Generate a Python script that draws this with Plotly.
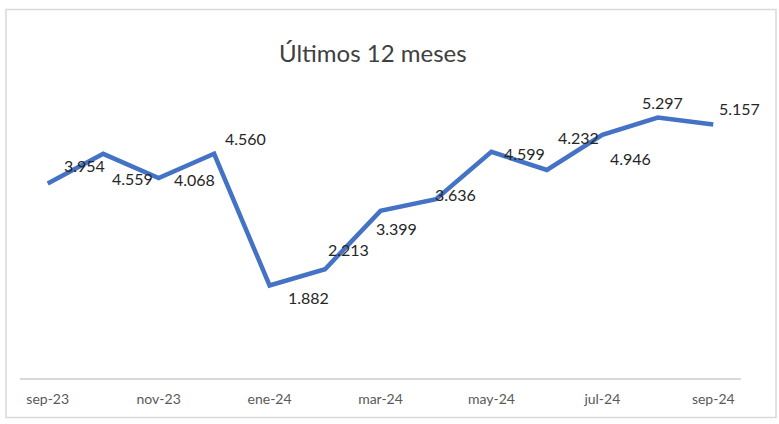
import plotly.graph_objects as go

months = ["sep-23", "oct-23", "nov-23", "dic-23", "ene-24", "feb-24", "mar-24",
          "abr-24", "may-24", "jun-24", "jul-24", "ago-24", "sep-24"]
values = [3.954, 4.559, 4.068, 4.560, 1.882, 2.213, 3.399,
          3.636, 4.599, 4.232, 4.946, 5.297, 5.157]
tick_labels = ["sep-23", "nov-23", "ene-24", "mar-24", "may-24", "jul-24", "sep-24"]

# label offsets in pixels (style only)
label_dx = [37, 29, 36, 31, 39, 23, 16, 20, 33, 32, 28, 5, 26]
label_dy = [-18, 25, 2, -15, 12, -20, 18, -5, 2, -32, 24, -15, -16]

W, H = 779, 424
L, R, T, B = 20, 38, 82.5, 46.4
pw = W - L - R
ph = H - T - B

fig = go.Figure()
fig.add_trace(go.Scatter(
    x=list(range(len(months))), y=values, mode="lines",
    line=dict(color="#4472C4", width=4.5),
    hoverinfo="skip", showlegend=False,
))

for i, v in enumerate(values):
    fig.add_annotation(
        x=i, y=v, xref="x", yref="y", text=f"{v:.3f}", showarrow=False,
        xshift=label_dx[i], yshift=-label_dy[i],
        font=dict(family="Lato, Open Sans, sans-serif", size=16, color="#262626"),
    )

fig.add_annotation(
    x=(373 - L) / pw, y=(H - B - 52) / ph, xref="paper", yref="paper",
    xanchor="center", yanchor="middle",
    text="Últimos 12 meses", showarrow=False,
    font=dict(family="Lato, Open Sans, sans-serif", size=24, color="#404040"),
)

fig.add_shape(
    type="rect", xref="paper", yref="paper",
    x0=(6 - L) / pw, x1=(776 - L) / pw,
    y0=(H - B - 417) / ph, y1=(H - B - 9) / ph,
    line=dict(color="#d9d9d9", width=1.5), fillcolor="rgba(0,0,0,0)", layer="below",
)

tick_vals = [months.index(t) for t in tick_labels]

fig.update_layout(
    width=W, height=H,
    margin=dict(l=L, r=R, t=T, b=B),
    paper_bgcolor="white", plot_bgcolor="white",
    xaxis=dict(
        range=[-0.5, len(months) - 0.5], tickmode="array",
        tickvals=tick_vals, ticktext=tick_labels,
        showgrid=False, zeroline=False, showline=True,
        linecolor="#d9d9d9", linewidth=2, ticks="", ticklabelstandoff=7,
        tickfont=dict(family="Lato, Open Sans, sans-serif", size=14, color="#595959"),
    ),
    yaxis=dict(range=[0, 6], visible=False, showgrid=False, zeroline=False),
)

fig.write_html("out.html")
